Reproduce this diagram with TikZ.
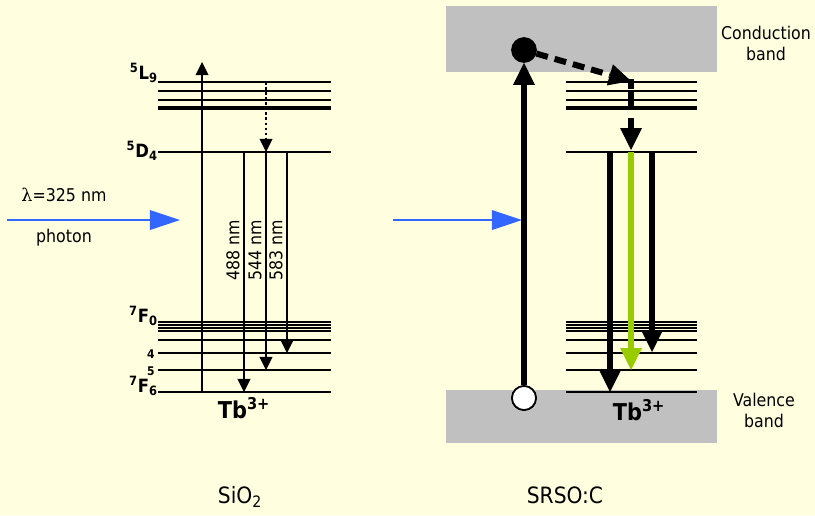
\documentclass[tikz,border=0pt]{standalone}
\usepackage{fontspec}
\setmainfont{DejaVu Sans Condensed}
\newfontfamily\greekserif{DejaVu Serif}
\usetikzlibrary{arrows.meta, calc}
\definecolor{paper}{HTML}{FFFFE0}
\definecolor{bandgray}{HTML}{C0C0C0}
\definecolor{photonblue}{HTML}{3366FF}
\definecolor{emitgreen}{HTML}{99CC00}
\tikzset{
    level/.style={line width=1.4pt},
    level_fat/.style={line width=2.2pt},
    thin_arrow/.style={-{Triangle[length=0.33cm, width=0.33cm, line width=0pt]}, line width=1.1pt},
    fat_arrow/.style={-{Triangle[length=0.55cm, width=0.55cm, line width=0pt]}, line width=4.3pt},
    photon_arrow/.style={-{Triangle[length=0.75cm, width=0.5cm, line width=0pt]}, line width=1.5pt, photonblue},
    term/.style={font=\fontsize{13}{15}\selectfont\bfseries, inner sep=0pt, anchor=base east},
    jlabel/.style={font=\fontsize{8.5}{10}\selectfont\bfseries, inner sep=0pt, anchor=east},
    ion/.style={font=\fontsize{16.5}{19}\selectfont\bfseries, inner sep=0pt, anchor=base},
    caption/.style={font=\fontsize{12.5}{15}\selectfont, align=center},
    bigcaption/.style={font=\fontsize{16}{19}\selectfont},
    wavelength/.style={font=\fontsize{12.5}{14}\selectfont, rotate=90, inner sep=0pt},
    carrier/.style={circle, draw, line width=1.2pt, minimum size=0.6cm, inner sep=0pt}
}

\begin{document}
\begin{tikzpicture}[x=0.025cm, y=-0.025cm]
    \fill[paper] (0,0) rectangle (815,515);
    \useasboundingbox (0,0) rectangle (815,515);

    % Bands
    \fill[bandgray] (446,6) rectangle (717,72);
    \fill[bandgray] (446,390) rectangle (717,443);

    % Levels
    \foreach \x/\xx in {158/331, 566/697} {
        \foreach \y in {82,91,100,152,322,325,328,331,340,353,370,392}
            \draw[level] (\x,\y) -- (\xx,\y);
        \draw[level_fat] (\x,108) -- (\xx,108);
    }

    % Level names
    \node (L9) [term] at (158,79) {\textsuperscript{5}L\textsubscript{9}};
    \node (D4) [term] at (158,157) {\textsuperscript{5}D\textsubscript{4}};
    \node (F0) [term] at (158,322) {\textsuperscript{7}F\textsubscript{0}};
    \node (F4) [jlabel] at (155,354) {4};
    \node (F5) [jlabel] at (155,371) {5};
    \node (F6) [term] at (158,392) {\textsuperscript{7}F\textsubscript{6}};
    \node (tbA) [ion] at (244,418) {Tb\textsuperscript{3+}};
    \node (tbB) [ion] at (639,420) {Tb\textsuperscript{3+}};

    % SiO2 transitions
    \coordinate (upA0) at (202,392);
    \coordinate (upA1) at (202,62);
    \coordinate (relA0) at (266,82);
    \coordinate (relA1) at (266,152);
    \draw[thin_arrow] (upA0) -- (upA1);
    \draw[thin_arrow, dash pattern=on 2pt off 1.6pt] (relA0) -- (relA1);
    \foreach \x/\y/\nm in {244/392/488, 266/370/544, 287/353/583} {
        \coordinate (emA\nm) at (\x,\y);
        \draw[thin_arrow] (\x,152) -- (emA\nm);
        \node (wl\nm) [wavelength] at (\x-11,250) {\nm\ nm};
    }

    % Photons
    \coordinate (phA0) at (7,220);
    \coordinate (phA1) at (180,220);
    \coordinate (phB0) at (393,220);
    \coordinate (phB1) at (522,220);
    \draw[photon_arrow] (phA0) -- (phA1);
    \draw[photon_arrow] (phB0) -- (phB1);
    \node (lambda) [caption] at (64,195) {{\greekserif λ}=325 nm};
    \node (photon) [caption] at (64,238) {photon};

    % SRSO:C carriers
    \node (elec) [carrier, fill=black] at (524,50) {};
    \node (hole) [carrier, fill=white] at (524,398) {};
    \draw[fat_arrow] (hole) -- (elec);
    \coordinate (trap) at (631,81);
    \draw[fat_arrow, dash pattern=on 8.5pt off 5pt] (elec) -- (trap);
    \coordinate (relB0) at (631,79);
    \coordinate (relB1) at (631,150);
    \draw[fat_arrow, dash pattern=on 7pt off 2pt on 13pt off 6pt on 60pt] (relB0) -- (relB1);
    \foreach \x/\y/\c in {610/392/black, 631/370/emitgreen, 652/352/black} {
        \coordinate (emB\x) at (\x,\y);
        \draw[fat_arrow, \c] (\x,152) -- (emB\x);
    }
    \node (hole) [carrier, fill=white] at (524,398) {};

    % Band names
    \node (cbname) [caption] at (766,43) {Conduction\\band};
    \node (vbname) [caption] at (764,410) {Valence\\band};
    \node (sio) [bigcaption] at (240,497) {SiO\textsubscript{2}};
    \node (srso) [bigcaption] at (565,495) {SRSO:C};
\end{tikzpicture}
\end{document}
